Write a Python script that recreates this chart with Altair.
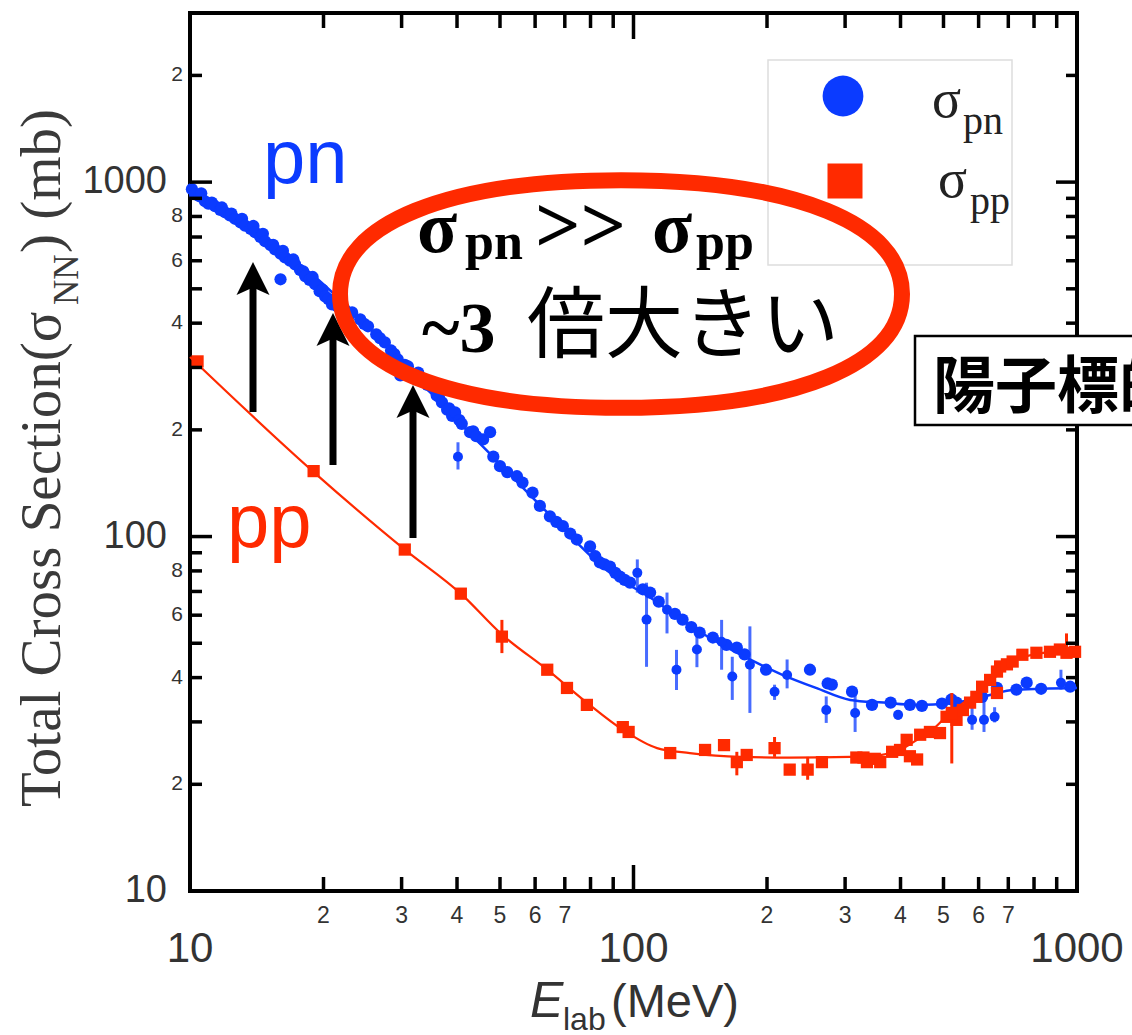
import altair as alt
import pandas as pd

# ---------------- data ----------------
# sigma_pn data points (MeV, mb)
pn_E = [10.1, 10.26, 10.5, 10.6, 10.81, 11.0, 11.2, 11.39, 11.7, 11.8, 11.99, 12.3, 12.4, 12.63, 13.0,
        13.1, 13.31, 13.7, 13.9, 14.02, 14.4, 14.6, 14.77, 15.2, 15.4, 15.55, 16.0, 16.0, 16.2, 16.38,
        16.8, 17.1, 17.26, 17.7, 18.0, 18.18, 18.6, 18.9, 19.15, 19.6, 19.9, 20.17, 20.5, 20.9, 21.0,
        21.5, 22.3, 22.8, 23.2, 24.2, 24.7, 25.2, 26.3, 26.8, 27.5, 28.4, 28.9, 29.4, 29.8, 30.5,
        31.0, 32.7, 33.9, 34.3, 35.1, 36.0, 36.4, 37.0, 38.0, 38.4, 39.0, 39.6, 40.5, 41.0, 42.8,
        43.5, 44.2, 45.8, 47.5, 48.3, 50.0, 51.9, 54.6, 56.2, 59.2, 61.5, 64.8, 67.0, 69.3, 72.0,
        74.5, 79.8, 82.0, 84.0, 86.0, 88.5, 91.0, 93.2, 95.5, 98.2, 105, 109, 114, 124, 129,
        135, 141, 151, 162, 171, 178, 199, 250, 274, 280, 311, 345, 380, 420, 447,
        496, 521, 535, 611, 660, 730, 770, 830, 965]
pn_sigma = [955, 925, 912, 930, 883, 870, 875, 855, 835, 848, 822, 806, 815, 788, 770,
            788, 754, 738, 752, 722, 700, 715, 681, 664, 665, 646, 628, 532, 640, 613,
            600, 605, 586, 565, 560, 543, 530, 540, 515, 492, 497, 476, 468, 452, 465,
            446, 438, 420, 429, 410, 398, 392, 372, 363, 353, 335, 327, 316, 285, 305,
            302, 290, 276, 268, 264, 250, 248, 239, 228, 230, 219, 224, 213, 208, 197,
            198, 192, 188, 197, 168, 158, 152, 148, 142, 133, 122, 114, 110, 107, 102,
            98.1, 93.8, 88, 84.5, 83.5, 82.3, 79, 77.1, 75.5, 74.1, 71.0, 69.5, 65.5, 60.5, 58.3,
            55.5, 53.6, 51.9, 49.5, 48.6, 46.5, 42.1, 42.1, 38.5, 38.2, 36.5, 33.5, 34.0, 33.5, 33.3,
            33.8, 34.7, 34.0, 35.3, 37.4, 37.0, 38.7, 37.2, 37.7]

# sigma_pn points with visible error bars
pn_err_E = [40.2, 102, 107, 119, 125, 139, 158, 167, 183, 208, 222, 272, 316, 395, 580, 617, 652, 920]
pn_err_sigma = [168, 79, 58.3, 62.2, 42.1, 48.0, 50.5, 40.3, 43.5, 36.5, 40.7, 32.4, 31.8, 31.4, 30.4, 30.4, 31.0, 38.7]
pn_err_lo = [154.6, 69.5, 42.9, 53.3, 36.9, 42.8, 42.1, 34.6, 31.8, 34.6, 37.3, 29.8, 28.1, 30.4, 28.5, 28.1, 29.9, 37.0]
pn_err_hi = [184.5, 86.2, 74.1, 69.5, 47.9, 52.1, 58.2, 45.8, 55.8, 38.2, 45.0, 35.4, 36.2, 32.4, 33.0, 35.3, 33.0, 42.1]

# sigma_pp data points
pp_E = [10.4, 19.0, 30.5, 40.8, 63.9, 70.8, 78.5, 94.6, 97.5, 121, 145, 160, 180, 225, 266,
        318, 330, 336, 350, 360, 383, 399, 413, 420, 436, 443, 466, 491, 508, 535,
        553, 574, 593, 611, 637, 660, 660, 671, 695, 716, 753, 810, 869, 915, 990]
pp_sigma = [312, 153, 91.9, 69.0, 42.1, 37.4, 33.5, 29.0, 28.1, 24.5, 25.0, 25.8, 24.2, 22.0, 23.1,
            23.8, 23.8, 23.1, 23.6, 23.1, 24.7, 25.0, 26.7, 24.0, 23.5, 27.6, 28.1, 27.9, 31.0, 30.4,
            32.4, 34.0, 35.3, 37.7, 39.4, 41.6, 36.2, 43.0, 43.6, 44.4, 46.4, 47.0, 47.3, 48.0, 47.3]

# sigma_pp points with visible error bars
pp_err_E = [50.5, 171, 208, 247, 522, 947]
pp_err_sigma = [52.2, 23.1, 25.3, 22.0, 31.8, 47.0]
pp_err_lo = [46.9, 21.2, 23.9, 20.6, 22.9, 45.8]
pp_err_hi = [58.2, 24.7, 27.2, 23.9, 36.2, 53.3]

# fitted curves
pn_fit_E = [10, 13.65, 18.6, 25.5, 34.8, 47.5, 64.8, 88.5, 109, 141, 183, 216, 258, 308, 366,
            436, 517, 611, 730, 1000]
pn_fit_sigma = [955, 728, 557, 384, 255, 171, 115, 79.1, 67.3, 53.9, 45.0, 40.8, 37.4, 34.6, 34.0,
                33.5, 33.8, 35.3, 37.0, 37.4]
pp_fit_E = [10, 18.9, 30.5, 40.8, 50.5, 63.9, 78.5, 94.6, 113, 134, 174, 225, 308, 363, 399,
            436, 472, 517, 559, 611, 671, 730, 795, 869, 1000]
pp_fit_sigma = [321, 153, 91.9, 69.0, 52.9, 42.1, 34.0, 28.5, 25.3, 24.5, 23.9, 23.8, 23.9, 24.2, 25.0,
                26.7, 28.5, 31.8, 34.2, 37.0, 41.3, 45.0, 46.4, 47.3, 48.0]

# axis ticks and labels
x_major = [10, 100, 1000]
x_major_labels = ["10", "100", "1000"]
x_minor = [20, 30, 40, 50, 60, 70, 80, 90, 200, 300, 400, 500, 600, 700, 800, 900]
x_minor_lab_vals = [20, 30, 40, 50, 60, 70, 200, 300, 400, 500, 600, 700]
x_minor_labels = ["2", "3", "4", "5", "6", "7", "2", "3", "4", "5", "6", "7"]
y_major = [10, 100, 1000]
y_major_labels = ["10", "100", "1000"]
y_minor = [20, 30, 40, 50, 60, 70, 80, 90, 200, 300, 400, 500, 600, 700, 800, 900, 2000]
y_minor_lab_vals = [20, 40, 60, 80, 200, 400, 600, 800, 2000]
y_minor_labels = ["2", "4", "6", "8", "2", "4", "6", "8", "2"]

# ---------------- chart ----------------
W, H = 887, 878
BLUE = "#0b3bff"
RED = "#ff2a00"
GREY = "#333333"

xs = alt.Scale(type="log", domain=[10, 1000])
ys = alt.Scale(type="log", domain=[10, 3000])


def X(f):
    return alt.X(f, type="quantitative", scale=xs, axis=None)


def Y(f):
    return alt.Y(f, type="quantitative", scale=ys, axis=None)


pn_df = pd.DataFrame({"E": pn_E, "sigma": pn_sigma})
pn_err_df = pd.DataFrame({"E": pn_err_E, "sigma": pn_err_sigma, "lo": pn_err_lo, "hi": pn_err_hi})
pp_df = pd.DataFrame({"E": pp_E, "sigma": pp_sigma})
pp_err_df = pd.DataFrame({"E": pp_err_E, "sigma": pp_err_sigma, "lo": pp_err_lo, "hi": pp_err_hi})
pn_fit_df = pd.DataFrame({"E": pn_fit_E, "sigma": pn_fit_sigma})
pp_fit_df = pd.DataFrame({"E": pp_fit_E, "sigma": pp_fit_sigma})
anno = pd.DataFrame({"k": [0]})

layers = []

# data layers
layers.append(alt.Chart(pn_fit_df).mark_line(color=BLUE, strokeWidth=2.5, interpolate="monotone")
              .encode(x=X("E"), y=Y("sigma")))
layers.append(alt.Chart(pn_err_df).mark_rule(color=BLUE, strokeWidth=3, opacity=0.75)
              .encode(x=X("E"), y=Y("lo"), y2=alt.Y2("hi")))
layers.append(alt.Chart(pn_df).mark_circle(color=BLUE, size=150, opacity=1)
              .encode(x=X("E"), y=Y("sigma")))
layers.append(alt.Chart(pn_err_df).mark_circle(color=BLUE, size=100, opacity=1)
              .encode(x=X("E"), y=Y("sigma")))
layers.append(alt.Chart(pp_fit_df).mark_line(color=RED, strokeWidth=2.2, interpolate="monotone")
              .encode(x=X("E"), y=Y("sigma")))
layers.append(alt.Chart(pp_err_df).mark_rule(color=RED, strokeWidth=3)
              .encode(x=X("E"), y=Y("lo"), y2=alt.Y2("hi")))
layers.append(alt.Chart(pp_df).mark_square(color=RED, size=150, opacity=1)
              .encode(x=X("E"), y=Y("sigma")))
layers.append(alt.Chart(pp_err_df).mark_square(color=RED, size=150, opacity=1)
              .encode(x=X("E"), y=Y("sigma")))

# ticks (inward, on all four sides)
TW = 3.5
ymaj = pd.DataFrame({"v": y_major})
ymin = pd.DataFrame({"v": y_minor})
xmaj = pd.DataFrame({"v": x_major})
xmin = pd.DataFrame({"v": x_minor})
layers += [
    alt.Chart(ymaj).mark_rule(color="black", strokeWidth=TW).encode(y=Y("v"), x=alt.value(0), x2=alt.value(22)),
    alt.Chart(ymin).mark_rule(color="black", strokeWidth=TW).encode(y=Y("v"), x=alt.value(0), x2=alt.value(12)),
    alt.Chart(ymaj).mark_rule(color="black", strokeWidth=TW).encode(y=Y("v"), x=alt.value(W), x2=alt.value(W - 21)),
    alt.Chart(ymin).mark_rule(color="black", strokeWidth=TW).encode(y=Y("v"), x=alt.value(W), x2=alt.value(W - 11)),
    alt.Chart(xmaj).mark_rule(color="black", strokeWidth=TW).encode(x=X("v"), y=alt.value(H), y2=alt.value(H - 26)),
    alt.Chart(xmin).mark_rule(color="black", strokeWidth=TW).encode(x=X("v"), y=alt.value(H), y2=alt.value(H - 14)),
    alt.Chart(xmaj).mark_rule(color="black", strokeWidth=TW).encode(x=X("v"), y=alt.value(0), y2=alt.value(26)),
    alt.Chart(xmin).mark_rule(color="black", strokeWidth=TW).encode(x=X("v"), y=alt.value(0), y2=alt.value(15)),
]

# tick labels
SANS = "Liberation Sans"
layers += [
    alt.Chart(pd.DataFrame({"v": y_major, "t": y_major_labels})).mark_text(
        font=SANS, fontSize=38, color=GREY, align="right", baseline="middle")
    .encode(y=Y("v"), x=alt.value(-23), text="t:N"),
    alt.Chart(pd.DataFrame({"v": y_minor_lab_vals, "t": y_minor_labels})).mark_text(
        font=SANS, fontSize=21, color=GREY, align="right", baseline="middle")
    .encode(y=Y("v"), x=alt.value(-7), text="t:N"),
    alt.Chart(pd.DataFrame({"v": x_major, "t": x_major_labels})).mark_text(
        font=SANS, fontSize=42, color=GREY, align="center", baseline="alphabetic")
    .encode(x=X("v"), y=alt.value(949), text="t:N"),
    alt.Chart(pd.DataFrame({"v": x_minor_lab_vals, "t": x_minor_labels})).mark_text(
        font=SANS, fontSize=23, color=GREY, align="center", baseline="alphabetic")
    .encode(x=X("v"), y=alt.value(910), text="t:N"),
]


def txt(text, x, y, size, font, color="black", weight="normal", style="normal",
        align="left", baseline="alphabetic", angle=0):
    kw = dict(text=text, fontSize=size, font=font, color=color, fontWeight=weight,
              fontStyle=style, align=align, baseline=baseline)
    if angle:
        kw["angle"] = angle
    return alt.Chart(anno).mark_text(**kw).encode(x=alt.value(x), y=alt.value(y))


SERIF = "Liberation Serif"
# axis titles
layers += [
    txt("Total Cross Section(σ", -130, 794, 57, SERIF, color="#3a3a3a", angle=270),
    txt("NN", -112, 292, 35, SERIF, color="#3a3a3a", angle=270),
    txt(") (mb)", -130, 240, 57, SERIF, color="#3a3a3a", angle=270),
    txt("E", 340, 1004, 50, SANS, color=GREY, style="italic"),
    txt("lab", 373, 1017, 32, SANS, color=GREY),
    txt("(MeV)", 421, 1004, 47, SANS, color=GREY),
]

# series labels
layers += [
    txt("pn", 73, 170, 76, SANS, color=BLUE),
    txt("pp", 37, 534, 76, SANS, color=RED),
]

# arrows
HEAD = "M 0 -1 L 1 1 L 0 0.55 L -1 1 Z"
for ax, tip, bottom in [(63, 249, 399), (143, 300, 452), (223, 372, 525)]:
    layers.append(alt.Chart(anno).mark_rule(color="black", strokeWidth=7)
                  .encode(x=alt.value(ax), y=alt.value(bottom), y2=alt.value(tip + 18)))
    layers.append(alt.Chart(anno).mark_point(shape=HEAD, filled=True, color="black", size=1089, opacity=1)
                  .encode(x=alt.value(ax), y=alt.value(tip + 16.5)))

# legend box
layers += [
    alt.Chart(anno).mark_rect(fill="white", stroke="#dddddd", strokeWidth=1.5)
    .encode(x=alt.value(578), x2=alt.value(822), y=alt.value(47), y2=alt.value(252)),
    alt.Chart(anno).mark_point(shape="circle", filled=True, color=BLUE, size=1662, opacity=1)
    .encode(x=alt.value(653), y=alt.value(83)),
    alt.Chart(anno).mark_point(shape="square", filled=True, color=RED, size=1225, opacity=1)
    .encode(x=alt.value(655), y=alt.value(168)),
    txt("σ", 742, 104, 54, SERIF, color="#222222"),
    txt("pn", 773, 121, 40, SERIF, color="#222222"),
    txt("σ", 748, 184, 54, SERIF, color="#222222"),
    txt("pp", 780, 201, 40, SERIF, color="#222222"),
]

# ellipse annotation
ELL = ("M 1 0 C 1 0.25 0.62 0.405 0 0.405 C -0.62 0.405 -1 0.25 -1 0 "
       "C -1 -0.25 -0.62 -0.405 0 -0.405 C 0.62 -0.405 1 -0.25 1 0 Z")
layers.append(alt.Chart(anno).mark_point(shape=ELL, filled=False, stroke=RED, strokeWidth=16,
                                         size=315844, opacity=1)
              .encode(x=alt.value(431), y=alt.value(281)))

# text inside ellipse
layers += [
    txt("σ", 227, 239, 74, SERIF, weight="bold"),
    txt("pn", 275, 246, 52, SERIF, weight="bold"),
    txt(">>", 345, 239, 80, SERIF, weight="bold"),
    txt("σ", 462, 239, 74, SERIF, weight="bold"),
    txt("pp", 506, 246, 52, SERIF, weight="bold"),
    txt("~3", 232, 339, 72, SERIF, weight="bold"),
    txt("倍大きい", 337, 339, 78, "Noto Sans CJK JP"),
]

# boxed label at right (cut by the picture edge)
layers += [
    alt.Chart(anno).mark_rect(fill="white", stroke="black", strokeWidth=2.5)
    .encode(x=alt.value(725), x2=alt.value(1000), y=alt.value(323), y2=alt.value(412)),
    txt("陽子標的", 743, 395, 62, "Noto Sans CJK JP", weight="bold"),
]

chart = alt.layer(*layers).properties(
    width=W, height=H,
    autosize=alt.AutoSizeParams(type="none"),
    padding={"left": 190, "top": 13, "right": 55, "bottom": 144},
).configure_view(stroke="black", strokeWidth=4)

chart.save("out.html", embed_options={"renderer": "svg", "actions": False})
